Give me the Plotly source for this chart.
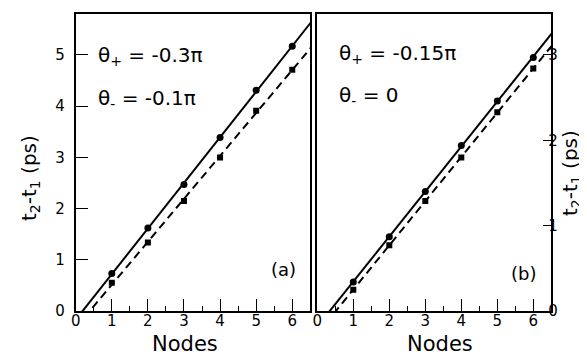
import numpy as np
import plotly.graph_objects as go
from plotly.subplots import make_subplots

# node number
nodes = [1, 2, 3, 4, 5, 6]

# panel (a): theta+ = -0.3pi, theta- = -0.1pi
a_plus = [0.73, 1.62, 2.47, 3.39, 4.31, 5.17]
a_minus = [0.55, 1.34, 2.15, 3.00, 3.91, 4.71]

# panel (b): theta+ = -0.15pi, theta- = 0
b_plus = [0.34, 0.87, 1.40, 1.94, 2.46, 2.97]
b_minus = [0.25, 0.77, 1.29, 1.80, 2.33, 2.84]

W, H = 587, 360
FONT = "DejaVu Sans, Arial, sans-serif"


def px_x(p):
    return p / W


def px_y(p):
    return 1 - p / H


def fit(x, y):
    k, b = np.polyfit(x, y, 1)
    xs = np.array([0, 6.6])
    return xs, k * xs + b


fig = make_subplots(rows=1, cols=2)

for col, (yp, ym) in enumerate([(a_plus, a_minus), (b_plus, b_minus)], start=1):
    xs, ys = fit(nodes, yp)
    fig.add_trace(go.Scatter(x=xs, y=ys, mode="lines",
                             line=dict(color="black", width=2)), row=1, col=col)
    xs, ys = fit(nodes, ym)
    fig.add_trace(go.Scatter(x=xs, y=ys, mode="lines",
                             line=dict(color="black", width=2, dash="8px,5px")), row=1, col=col)
    fig.add_trace(go.Scatter(x=nodes, y=yp, mode="markers",
                             marker=dict(color="black", size=7, symbol="circle")), row=1, col=col)
    fig.add_trace(go.Scatter(x=nodes, y=ym, mode="markers",
                             marker=dict(color="black", size=6, symbol="square")), row=1, col=col)

xax = dict(range=[0, 6.5], tick0=0, dtick=1, ticks="inside", ticklen=12, tickwidth=1.2,
           tickcolor="black", showline=True, linewidth=2, linecolor="black", mirror=True,
           showgrid=False, zeroline=False, ticklabelstandoff=-5,
           tickfont=dict(size=15, family=FONT, color="black"),
           minor=dict(dtick=0.5, ticks="inside", ticklen=5, tickwidth=1.2, tickcolor="black"))
yax = dict(tick0=0, dtick=1, ticks="inside", tickwidth=1.2, tickcolor="black",
           showline=True, linewidth=2, linecolor="black", mirror=True,
           showgrid=False, zeroline=False, tickfont=dict(size=15, family=FONT, color="black"))

ydom = [px_y(303), px_y(6)]
fig.update_layout(
    xaxis=dict(xax, domain=[px_x(67.7), px_x(302.3)]),
    xaxis2=dict(xax, domain=[px_x(309.3), px_x(543.3)]),
    yaxis=dict(yax, domain=ydom, range=[0, 5.8], ticklen=12, ticklabelstandoff=6),
    yaxis2=dict(yax, domain=ydom, range=[0, 3.48], ticklen=8, side="right", anchor="x2",
                ticklabelstandoff=-8),
)

fig.update_layout(
    template="none",
    width=W, height=H,
    margin=dict(l=0, r=0, t=0, b=0, autoexpand=False),
    paper_bgcolor="white", plot_bgcolor="white",
    showlegend=False,
    font=dict(family=FONT, color="black"),
)

ylabel = "t<sub>2</sub>-t<sub>1</sub> (ps)"
notes = [
    # text, x px, y px, size, angle, anchor
    (ylabel, 22, 170, 20, -90, "center"),
    (ylabel, 563, 165, 20, -90, "center"),
    ("Nodes", 177, 336, 21, 0, "center"),
    ("Nodes", 432, 336, 21, 0, "center"),
    ("(a)", 275, 261, 18, 0, "center"),
    ("(b)", 515, 265, 18, 0, "center"),
    ("θ<sub>+</sub> = -0.3π", 88, 48, 20, 0, "left"),
    ("θ<sub>-</sub> = -0.1π", 88, 91, 20, 0, "left"),
    ("θ<sub>+</sub> = -0.15π", 329, 46, 20, 0, "left"),
    ("θ<sub>-</sub> = 0", 329, 88, 20, 0, "left"),
]
for text, x, y, size, angle, anchor in notes:
    fig.add_annotation(text=text, x=px_x(x), y=px_y(y), xref="paper", yref="paper",
                       showarrow=False, textangle=angle, xanchor=anchor, yanchor="middle",
                       font=dict(size=size, family=FONT, color="black"))

fig.write_html("out.html")
